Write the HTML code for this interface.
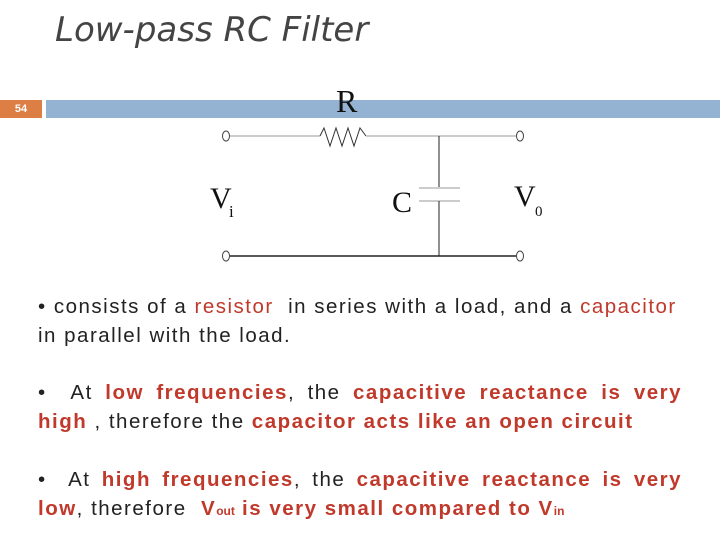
<!DOCTYPE html>
<html><head><style>
body{margin:0;width:720px;height:540px;background:#fff;position:relative;overflow:hidden;font-family:"Liberation Sans",sans-serif}
.t{position:absolute;left:55px;top:10px;font-size:34px;font-style:italic;color:#444;font-family:"DejaVu Sans","Liberation Sans",sans-serif;letter-spacing:0px}
.p{position:absolute;left:38px;width:644px;font-size:20.5px;color:#222;line-height:29px;text-align:justify;letter-spacing:1.5px}
.r{color:#c0392b}.b{color:#c0392b;font-weight:bold}
</style></head><body>
<div class="t">Low-pass RC Filter</div>
<div style="position:absolute;left:0;top:100px;width:42px;height:18px;background:#dd7e44;color:#fff;font-size:11px;font-weight:bold;line-height:18px;text-align:center">54</div>
<div style="position:absolute;left:46px;top:100px;width:674px;height:18px;background:#94b3d3"></div>
<svg style="position:absolute;left:0;top:0" width="720" height="540">
<g font-family="Liberation Serif" fill="#111">
<text x="336" y="112" font-size="32">R</text>
<text x="210" y="208" font-size="30">V</text><text x="229" y="217" font-size="17">i</text>
<text x="392" y="212" font-size="30">C</text>
<text x="514" y="206" font-size="30">V</text><text x="535" y="216" font-size="15">0</text>
</g>
<g fill="none">
<line x1="230" y1="136" x2="320" y2="136" stroke="#ccc" stroke-width="2"/>
<polyline points="320,136 324,128 330,146 336,128 342,146 348,128 354,146 360,128 366,136" stroke="#333" stroke-width="1"/>
<line x1="366" y1="136" x2="516" y2="136" stroke="#ccc" stroke-width="2"/>
<line x1="439" y1="136" x2="439" y2="188" stroke="#222"/>
<line x1="419" y1="188" x2="460" y2="188" stroke="#ccc" stroke-width="2"/>
<line x1="419" y1="201" x2="460" y2="201" stroke="#ccc" stroke-width="2"/>
<line x1="439" y1="201" x2="439" y2="256" stroke="#222"/>
<line x1="230" y1="256" x2="516" y2="256" stroke="#222" stroke-width="1.5"/>
<ellipse cx="226" cy="136" rx="3.5" ry="5" stroke="#444"/>
<ellipse cx="520" cy="136" rx="3.5" ry="5" stroke="#444"/>
<ellipse cx="226" cy="256" rx="3.5" ry="5" stroke="#444"/>
<ellipse cx="520" cy="256" rx="3.5" ry="5" stroke="#444"/>
</g>
</svg>
<div class="p" style="top:292px;text-align:left">• consists of a <span class="r">resistor</span>&nbsp; in series with a load, and a <span class="r">capacitor</span> in parallel with the load.</div>
<div class="p" style="top:378px">•&nbsp; At <span class="b">low frequencies</span>, the <span class="b">capacitive reactance is very high</span> , therefore the <span class="b">capacitor acts like an open circuit</span></div>
<div class="p" style="top:465px">•&nbsp; At <span class="b">high frequencies</span>, the <span class="b">capacitive reactance is very low</span>, therefore&nbsp; <span class="b">V<span style="font-size:12px;letter-spacing:0">out</span> is very small compared to V<span style="font-size:12px;letter-spacing:0">in</span></span></div>
</body></html>
